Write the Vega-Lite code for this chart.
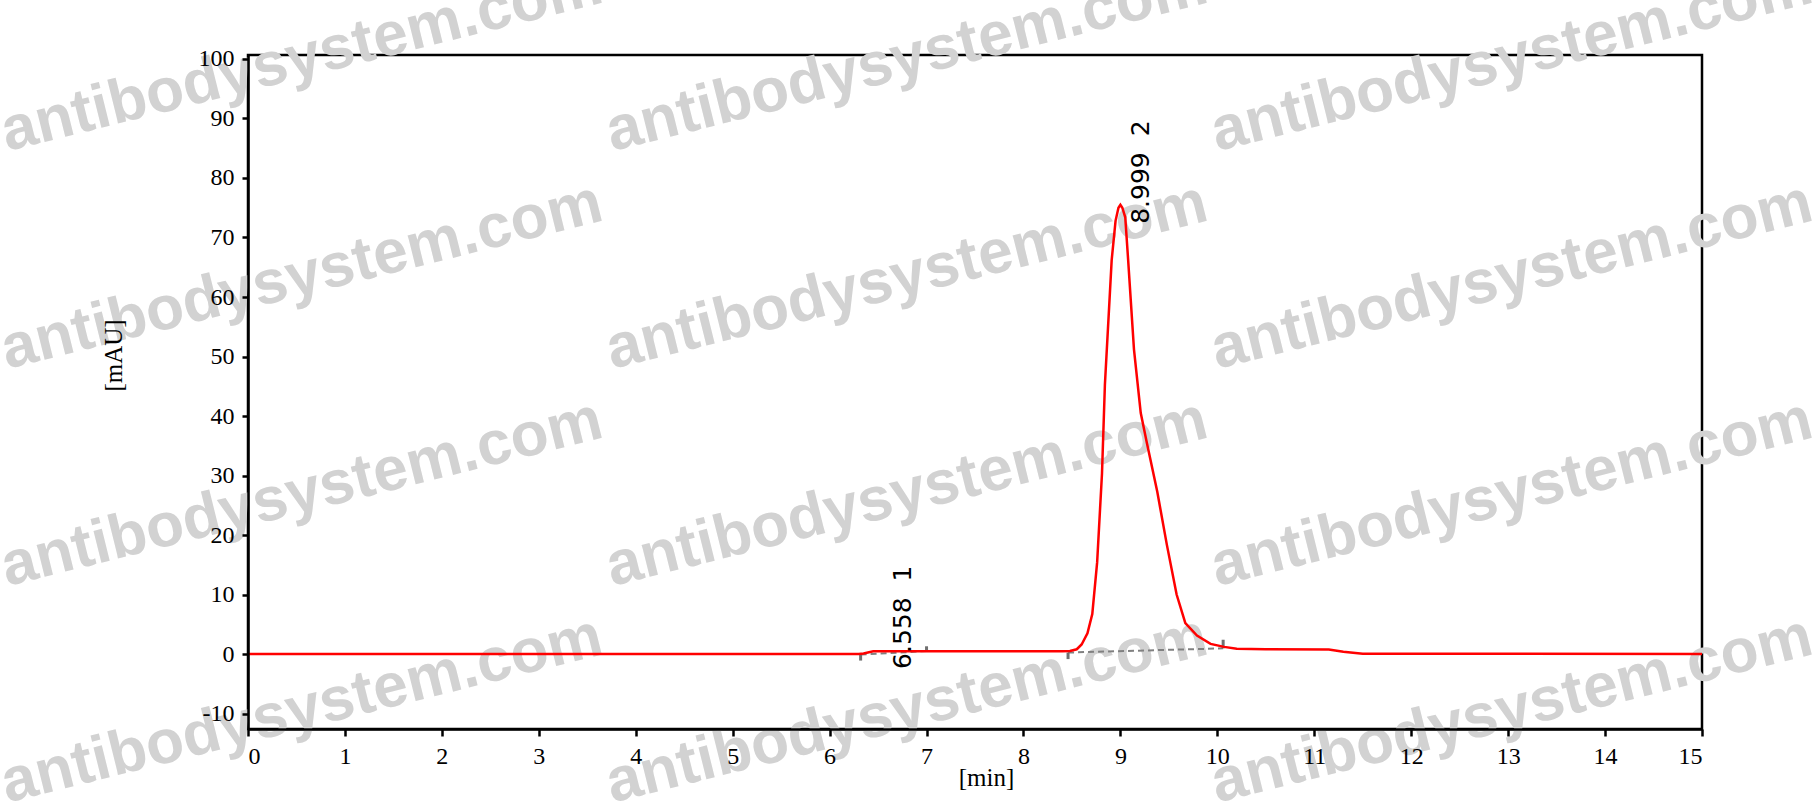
{
  "$schema": "https://vega.github.io/schema/vega-lite/v6.json",
  "width": 1454,
  "height": 674,
  "autosize": "none",
  "padding": {"left": 248, "top": 55, "right": 110, "bottom": 76},
  "background": "white",
  "datasets": {
    "trace": [
      {"t": 0, "mau": 0},
      {"t": 6.30, "mau": 0},
      {"t": 6.35, "mau": 0.1},
      {"t": 6.45, "mau": 0.45},
      {"t": 7.0, "mau": 0.45},
      {"t": 8.4, "mau": 0.45},
      {"t": 8.48, "mau": 0.5},
      {"t": 8.55, "mau": 0.8},
      {"t": 8.60, "mau": 1.6},
      {"t": 8.66, "mau": 3.5},
      {"t": 8.71, "mau": 6.7},
      {"t": 8.76, "mau": 15.4},
      {"t": 8.81, "mau": 30.3},
      {"t": 8.84, "mau": 45.2},
      {"t": 8.88, "mau": 57.2},
      {"t": 8.91, "mau": 66.2},
      {"t": 8.95, "mau": 72.8},
      {"t": 8.98, "mau": 75.0},
      {"t": 9.00, "mau": 75.5},
      {"t": 9.02, "mau": 75.0},
      {"t": 9.05, "mau": 73.4},
      {"t": 9.08, "mau": 66.2},
      {"t": 9.14, "mau": 51.2},
      {"t": 9.21, "mau": 40.5},
      {"t": 9.27, "mau": 35.7},
      {"t": 9.38, "mau": 27.3},
      {"t": 9.48, "mau": 18.3},
      {"t": 9.58, "mau": 10.0},
      {"t": 9.67, "mau": 5.2},
      {"t": 9.79, "mau": 3.1},
      {"t": 9.93, "mau": 1.7},
      {"t": 10.07, "mau": 1.2},
      {"t": 10.2, "mau": 0.9},
      {"t": 10.5, "mau": 0.8},
      {"t": 11.15, "mau": 0.75},
      {"t": 11.3, "mau": 0.4},
      {"t": 11.5, "mau": 0.05},
      {"t": 15, "mau": 0}
    ],
    "baselines": [
      {"peak": 1, "t": 6.32, "mau": -0.1},
      {"peak": 1, "t": 7.0, "mau": 0.5},
      {"peak": 2, "t": 8.46, "mau": 0.25},
      {"peak": 2, "t": 10.06, "mau": 0.95}
    ],
    "markers": [
      {"t": 6.32, "lo": -1.1, "hi": -0.1},
      {"t": 7.0, "lo": 0.4, "hi": 1.3},
      {"t": 8.46, "lo": -0.85, "hi": 0.25},
      {"t": 10.06, "lo": 0.95, "hi": 2.4}
    ],
    "peaks": [
      {"t": 6.76, "mau": -2.5, "label": "6.558\u00a0\u00a01"},
      {"t": 9.21, "mau": 72.3, "label": "8.999\u00a0\u00a02"}
    ],
    "watermark": [
      {"t": -2.486, "mau": 84.5, "text": "antibodysystem.com"},
      {"t": 3.755, "mau": 84.5, "text": "antibodysystem.com"},
      {"t": 9.997, "mau": 84.5, "text": "antibodysystem.com"},
      {"t": -2.486, "mau": 47.9, "text": "antibodysystem.com"},
      {"t": 3.755, "mau": 47.9, "text": "antibodysystem.com"},
      {"t": 9.997, "mau": 47.9, "text": "antibodysystem.com"},
      {"t": -2.486, "mau": 11.4, "text": "antibodysystem.com"},
      {"t": 3.755, "mau": 11.4, "text": "antibodysystem.com"},
      {"t": 9.997, "mau": 11.4, "text": "antibodysystem.com"},
      {"t": -2.486, "mau": -25.0, "text": "antibodysystem.com"},
      {"t": 3.755, "mau": -25.0, "text": "antibodysystem.com"},
      {"t": 9.997, "mau": -25.0, "text": "antibodysystem.com"}
    ]
  },
  "encoding": {
    "x": {
      "field": "t",
      "type": "quantitative",
      "scale": {"domain": [0, 15], "nice": false, "zero": false},
      "axis": {
        "title": "[min]",
        "zindex": 2,
        "values": [0, 1, 2, 3, 4, 5, 6, 7, 8, 9, 10, 11, 12, 13, 14, 15],
        "labelExpr": "'' + datum.value",
        "titleX": 738,
        "titleY": 48,
        "titleBaseline": "middle",
        "titleAlign": "center",
        "tickSize": 7,
        "labelPadding": 8
      }
    },
    "y": {
      "field": "mau",
      "type": "quantitative",
      "scale": {"domain": [-12.6, 100.67], "nice": false, "zero": false},
      "axis": {
        "title": "[mAU]",
        "zindex": 2,
        "values": [-10, 0, 10, 20, 30, 40, 50, 60, 70, 80, 90, 100],
        "labelExpr": "'' + datum.value",
        "titleX": -135,
        "titleY": 300,
        "titleAngle": 270,
        "titleBaseline": "middle",
        "titleAlign": "center",
        "tickSize": 6,
        "labelPadding": 8
      }
    }
  },
  "layer": [
    {
      "data": {"name": "watermark"},
      "mark": {
        "type": "text",
        "angle": -14,
        "align": "left",
        "baseline": "alphabetic",
        "font": "Liberation Sans",
        "fontWeight": "bold",
        "fontSize": 62,
        "color": "#d2d2d2"
      },
      "encoding": {"text": {"field": "text"}}
    },
    {
      "data": {"name": "baselines"},
      "mark": {"type": "line", "color": "#808080", "strokeWidth": 2, "strokeDash": [6, 4]},
      "encoding": {"detail": {"field": "peak"}}
    },
    {
      "data": {"name": "markers"},
      "mark": {"type": "rule", "color": "#707070", "strokeWidth": 3},
      "encoding": {
        "y": {"field": "lo", "type": "quantitative"},
        "y2": {"field": "hi"}
      }
    },
    {
      "data": {"name": "trace"},
      "mark": {"type": "line", "color": "#ff0000", "strokeWidth": 2.5},
      "encoding": {}
    },
    {
      "data": {"name": "peaks"},
      "mark": {
        "type": "text",
        "angle": 270,
        "align": "left",
        "baseline": "middle",
        "font": "DejaVu Sans",
        "fontSize": 25,
        "color": "black"
      },
      "encoding": {"text": {"field": "label"}}
    }
  ],
  "config": {
    "view": {"stroke": "black", "strokeWidth": 2.5},
    "axis": {
      "zindex": 2,
      "grid": false,
      "domainColor": "black",
      "domainWidth": 2.5,
      "tickColor": "black",
      "tickWidth": 2.5,
      "labelFont": "Liberation Serif",
      "labelFontSize": 24,
      "labelColor": "black",
      "titleFont": "Liberation Serif",
      "titleFontSize": 25,
      "titleFontWeight": "normal",
      "titleColor": "black"
    }
  }
}
